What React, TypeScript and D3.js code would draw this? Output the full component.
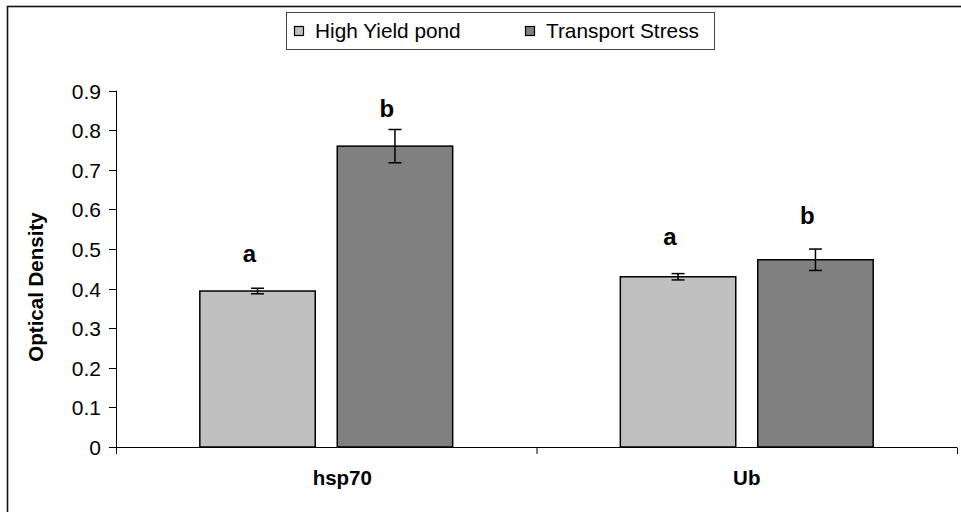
import React from "react";
import * as d3 from "d3";

// values
const genes = ["hsp70", "Ub"];
const groups = ["High Yield pond", "Transport Stress"];
const groupColors = ["#c0c0c0", "#808080"];
const meanValues = [
  [0.394, 0.76],
  [0.43, 0.473],
];
const errorValues = [
  [0.007, 0.042],
  [0.008, 0.027],
];
const letters = [
  ["a", "b"],
  ["a", "b"],
];
const letterLevels = [
  [0.467, 0.833],
  [0.51, 0.563],
];
const yTicks = [0, 0.1, 0.2, 0.3, 0.4, 0.5, 0.6, 0.7, 0.8, 0.9];

const width = 961;
const height = 512;
const font = "Arial, 'Liberation Sans', Helvetica, sans-serif";

const App = () => {
  const x = d3.scaleBand().domain(genes).range([116, 957]);
  const inner = d3
    .scaleBand()
    .domain(groups)
    .range([0, x.bandwidth()])
    .paddingInner(0.16)
    .paddingOuter(0.61);
  const y = d3.scaleLinear().domain([0, 0.9]).range([447, 90.7]);

  const legendX = [294, 525];

  return (
    <svg
      width={width}
      height={height}
      style={{ display: "block", position: "absolute", left: 0, top: 0 }}
      fontFamily={font}
    >
      <rect x={0} y={0} width={width} height={height} fill="#fff" />
      {/* outer frame, cut off on the right and bottom */}
      <rect
        x={7.5}
        y={6.5}
        width={width + 10}
        height={height + 10}
        fill="none"
        stroke="#111"
        strokeWidth={1.6}
      />

      {/* legend */}
      <rect x={286.5} y={12.5} width={428} height={37} fill="#fff" stroke="#444" strokeWidth={1} />
      {groups.map((g, i) => (
        <g key={g}>
          <rect
            x={legendX[i] + 0.5}
            y={26.5}
            width={9}
            height={9}
            fill={groupColors[i]}
            stroke="#000"
            strokeWidth={1.2}
          />
          <text x={legendX[i] + 21} y={38} fontSize={20.8} fill="#000">
            {g}
          </text>
        </g>
      ))}

      {/* bars */}
      {genes.map((gene, gi) =>
        groups.map((g, si) => {
          const bx = (x(gene) ?? 0) + (inner(g) ?? 0);
          const bw = inner.bandwidth();
          const cx = bx + bw / 2;
          const v = meanValues[gi][si];
          const e = errorValues[gi][si];
          return (
            <g key={gene + g}>
              <rect
                x={bx}
                y={y(v)}
                width={bw}
                height={y(0) - y(v)}
                fill={groupColors[si]}
                stroke="#000"
                strokeWidth={1.5}
              />
              <g stroke="#000" strokeWidth={1.5}>
                <line x1={cx} x2={cx} y1={y(v + e)} y2={y(v - e)} />
                <line x1={cx - 6.5} x2={cx + 6.5} y1={y(v + e)} y2={y(v + e)} />
                <line x1={cx - 6.5} x2={cx + 6.5} y1={y(v - e)} y2={y(v - e)} />
              </g>
              <text
                x={cx - 8}
                y={y(letterLevels[gi][si])}
                fontSize={24}
                fontWeight="bold"
                textAnchor="middle"
                fill="#000"
              >
                {letters[gi][si]}
              </text>
            </g>
          );
        })
      )}

      {/* y axis */}
      <line x1={116.5} x2={116.5} y1={y(0.9)} y2={y(0)} stroke="#000" strokeWidth={1} />
      {yTicks.map((t) => (
        <g key={t} transform={`translate(0,${Math.round(y(t)) + 0.5})`}>
          <line x1={109} x2={116.5} stroke="#000" strokeWidth={1} />
          <text x={101} dy="0.35em" fontSize={21} textAnchor="end" fill="#000">
            {t === 0 ? "0" : d3.format(".1f")(t)}
          </text>
        </g>
      ))}
      <text
        transform={`translate(43,287) rotate(-90)`}
        fontSize={20.5}
        fontWeight="bold"
        textAnchor="middle"
        fill="#000"
      >
        Optical Density
      </text>

      {/* x axis */}
      <line x1={116} x2={957} y1={447.5} y2={447.5} stroke="#000" strokeWidth={1} />
      {[...genes.map((g) => x(g) ?? 0), 957].map((t, i) => (
        <line key={i} x1={t + 0.5} x2={t + 0.5} y1={447.5} y2={454} stroke="#000" strokeWidth={1} />
      ))}
      {genes.map((g, i) => (
        <text
          key={g}
          x={(x(g) ?? 0) + x.bandwidth() / 2 + (i === 0 ? 16 : 0)}
          y={485}
          fontSize={20.5}
          fontWeight="bold"
          textAnchor="middle"
          fill="#000"
        >
          {g}
        </text>
      ))}
    </svg>
  );
};

export default App;
